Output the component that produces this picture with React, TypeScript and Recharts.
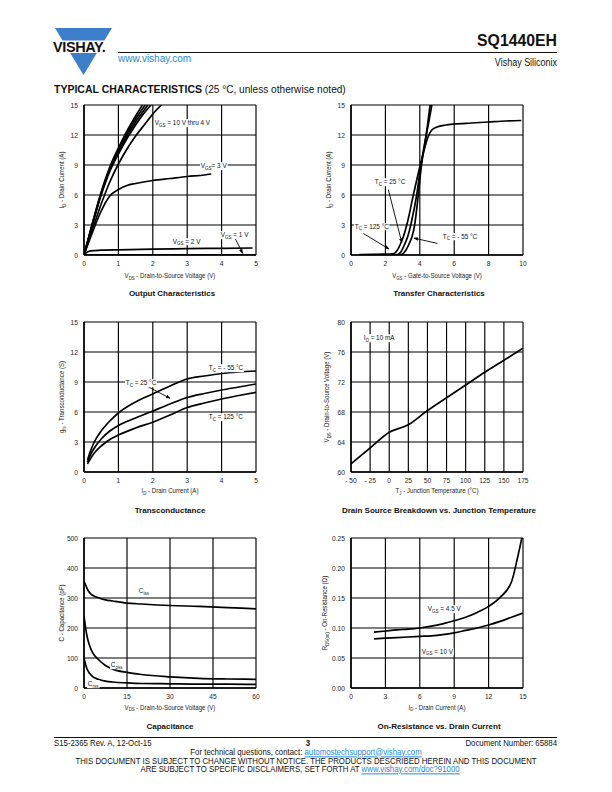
import React from 'react';
import { LineChart, Line, XAxis, YAxis, CartesianGrid, ReferenceLine } from 'recharts';

type Pt = [number, number];

// Output characteristics: I_D (A) vs V_DS (V)
const outVgs10: Pt[] = [[0, 0], [0.25, 3.25], [0.5, 6.3], [0.75, 8.8], [1, 10.7], [1.25, 12.4], [1.5, 13.9], [1.7, 15]];
const outVgs8: Pt[] = [[0, 0], [0.25, 3.2], [0.5, 6.2], [0.75, 8.65], [1, 10.5], [1.25, 12.15], [1.5, 13.6], [1.78, 15]];
const outVgs6: Pt[] = [[0, 0], [0.25, 3.15], [0.5, 6.1], [0.75, 8.5], [1, 10.3], [1.25, 11.9], [1.5, 13.3], [1.75, 14.5], [1.86, 15]];
const outVgs5: Pt[] = [[0, 0], [0.25, 3.1], [0.5, 6.0], [0.75, 8.35], [1, 10.1], [1.25, 11.65], [1.5, 13.0], [1.75, 14.2], [1.95, 15]];
const outVgs4: Pt[] = [[0, 0], [0.25, 2.6], [0.5, 5.1], [0.75, 7.3], [1, 9.1], [1.25, 10.6], [1.5, 11.9], [1.75, 13.0], [2, 14.1], [2.25, 15]];
const outVgs3: Pt[] = [[0, 0], [0.25, 2.3], [0.5, 4.4], [0.75, 5.9], [1, 6.55], [1.25, 6.95], [1.5, 7.15], [2, 7.45], [2.5, 7.65], [3, 7.85], [3.5, 8.0], [3.7, 8.1]];
const outVgs2: Pt[] = [[0, 0], [0.1, 0.3], [0.2, 0.42], [0.5, 0.48], [1, 0.52], [2, 0.58], [3, 0.63], [4, 0.67], [4.9, 0.7]];
const outVgs1: Pt[] = [[0, 0], [1, 0.01], [2, 0.02], [3, 0.02], [4, 0.02], [5, 0.02]];

// Transfer characteristics: I_D (A) vs V_GS (V)
const trM55: Pt[] = [[0.5, 0], [2, 0], [2.8, 0], [3.0, 0.1], [3.2, 0.5], [3.4, 1.2], [3.55, 1.85], [3.7, 3.0], [3.9, 5.8], [4.1, 9.0], [4.3, 11.2], [4.45, 13], [4.6, 15]];
const tr25: Pt[] = [[0.5, 0.02], [2, 0.02], [2.7, 0.05], [2.9, 0.3], [3.1, 1.0], [3.3, 1.85], [3.5, 3.2], [3.8, 5.8], [4.05, 8.8], [4.3, 11.3], [4.5, 13.1], [4.7, 15]];
const tr125: Pt[] = [[0.5, 0.05], [2, 0.08], [2.5, 0.15], [2.7, 0.5], [2.9, 1.2], [3.05, 1.85], [3.3, 3.4], [3.6, 5.8], [4.0, 8.8], [4.3, 10.8], [4.5, 11.9], [4.7, 12.5], [5, 12.8], [5.5, 13.0], [6, 13.1], [7, 13.2], [8, 13.3], [9, 13.4], [9.9, 13.45]];

// Transconductance: g_fs (S) vs I_D (A)
const gfsM55: Pt[] = [[0.1, 1.2], [0.2, 2.2], [0.3, 3.0], [0.5, 4.1], [0.75, 5.1], [1, 5.9], [1.5, 7.0], [2, 7.8], [2.5, 8.6], [3, 9.3], [3.5, 9.6], [4, 9.85], [4.5, 10.0], [5, 10.1]];
const gfs25: Pt[] = [[0.1, 1.0], [0.2, 1.8], [0.3, 2.4], [0.5, 3.3], [0.75, 4.1], [1, 4.65], [1.5, 5.4], [2, 6.1], [2.5, 6.8], [3, 7.45], [3.5, 7.85], [4, 8.2], [4.5, 8.5], [5, 8.8]];
const gfs125: Pt[] = [[0.1, 0.8], [0.2, 1.4], [0.3, 1.9], [0.5, 2.6], [0.75, 3.25], [1, 3.7], [1.5, 4.4], [2, 4.98], [2.5, 5.7], [3, 6.45], [3.5, 6.9], [4, 7.3], [4.5, 7.65], [5, 7.97]];

// Breakdown: V_DS (V) vs T_J (°C)
const bvTemp = [-50, -25, 0, 25, 50, 75, 100, 125, 150, 175];
const bvVolts = [61.1, 63.2, 65.3, 66.3, 68.2, 69.9, 71.6, 73.3, 74.9, 76.5];

// Capacitance (pF) vs V_DS (V)
const capVds = [0, 0.5, 1, 2, 3, 5, 7.5, 10, 15, 20, 30, 40, 50, 60];
const ciss = [355, 345, 333, 317, 309, 301, 294, 290, 283, 280, 275, 272, 268, 264];
const coss = [240, 205, 175, 140, 118, 95, 75, 63, 52, 45, 37, 32, 30, 29];
const crss = [100, 80, 65, 48, 38, 29, 23, 20, 17, 15, 14, 13, 13, 12];

// On-resistance (ohm) vs I_D (A)
const rdsVgs45: Pt[] = [[2, 0.093], [3, 0.095], [4, 0.097], [5, 0.098], [6, 0.1], [7, 0.103], [8, 0.107], [9, 0.112], [10, 0.118], [11, 0.126], [12, 0.136], [13, 0.151], [14, 0.177], [14.5, 0.215], [14.9, 0.25]];
const rdsVgs10: Pt[] = [[2, 0.082], [3, 0.083], [4, 0.084], [5, 0.085], [6, 0.086], [7, 0.087], [8, 0.089], [9, 0.092], [10, 0.096], [11, 0.1], [12, 0.105], [13, 0.111], [14, 0.118], [15, 0.125]];

const zip = (xs: number[], ys: number[]): Pt[] => xs.map((x, i) => [x, ys[i]]);

const SANS = "'Liberation Sans', Arial, sans-serif";
const N = 0.84; // squeeze factor, the datasheet uses a narrow face

const PW = 172, PH = 150, ML = 40, MT = 8, MR = 8, XH = 16;

interface PanelProps {
    left: number;
    top: number;
    xDomain: [number, number];
    yDomain: [number, number];
    xTicks: number[];
    yTicks: number[];
    series: Pt[][];
    arrows?: [Pt, Pt][];
    xFmt?: (v: number) => string;
    yFmt?: (v: number) => string;
}

const arrowShape = (p: any) => (
    <line x1={p.x1} y1={p.y1} x2={p.x2} y2={p.y2} stroke="#000" strokeWidth={0.9} markerEnd="url(#ah)" />
);

const XTick = ({ x, y, payload, fmt }: any) => (
    <g transform={`translate(${x},${y}) scale(${N + 0.06},1)`}>
        <text x={0} y={0} dy="0.71em" textAnchor="middle" fontSize={7.4} fontFamily={SANS} fill="#222">
            {fmt ? fmt(payload.value) : payload.value}
        </text>
    </g>
);

const YTick = ({ x, y, payload, fmt }: any) => (
    <g transform={`translate(${x},${y}) scale(${N + 0.06},1)`}>
        <text x={0} y={0} dy="0.35em" textAnchor="end" fontSize={7.4} fontFamily={SANS} fill="#222">
            {fmt ? fmt(payload.value) : payload.value}
        </text>
    </g>
);

const Panel = ({ left, top, xDomain, yDomain, xTicks, yTicks, series, arrows = [], xFmt, yFmt }: PanelProps) => (
    <div style={{ position: 'absolute', left: left - ML, top: top - MT }}>
        <LineChart width={ML + PW + MR} height={MT + PH + XH} margin={{ top: MT, right: MR, left: 0, bottom: 0 }}>
            <CartesianGrid stroke="#000" strokeWidth={1.15} />
            <XAxis
                type="number"
                dataKey="x"
                domain={xDomain}
                ticks={xTicks}
                interval={0}
                allowDataOverflow
                height={XH}
                tickLine={false}
                tickSize={4}
                tickMargin={1.5}
                axisLine={{ stroke: '#000', strokeWidth: 1.5 }}
                tick={<XTick fmt={xFmt} />}
            />
            <YAxis
                type="number"
                domain={yDomain}
                ticks={yTicks}
                interval={0}
                allowDataOverflow
                width={ML}
                tickLine={false}
                tickSize={4}
                tickMargin={2}
                axisLine={{ stroke: '#000', strokeWidth: 1.5 }}
                tick={<YTick fmt={yFmt} />}
            />
            {series.map((s, i) => (
                <Line
                    key={i}
                    data={s.map(([x, y]) => ({ x, y }))}
                    dataKey="y"
                    type="monotone"
                    stroke="#000"
                    strokeWidth={1.7}
                    dot={false}
                    isAnimationActive={false}
                />
            ))}
            {arrows.map(([a, b], i) => (
                <ReferenceLine key={i} segment={[{ x: a[0], y: a[1] }, { x: b[0], y: b[1] }]} shape={arrowShape} />
            ))}
        </LineChart>
    </div>
);

const Sub = ({ children }: { children: React.ReactNode }) => (
    <span style={{ fontSize: '70%', position: 'relative', top: '0.3em' }}>{children}</span>
);

const base: React.CSSProperties = { position: 'absolute', fontFamily: SANS, lineHeight: 1, whiteSpace: 'nowrap', color: '#111' };

const Note = ({ x, y, children }: { x: number; y: number; children: React.ReactNode }) => (
    <div style={{ ...base, left: x, top: y, transform: `translateY(-50%) scaleX(${N})`, transformOrigin: 'left center', fontSize: 7.6, background: '#fff', padding: '0 1px' }}>
        {children}
    </div>
);

const XLabel = ({ x, y, children }: { x: number; y: number; children: React.ReactNode }) => (
    <div style={{ ...base, left: x, top: y, transform: `translate(-50%,-50%) scaleX(${N})`, fontSize: 7.3, color: '#222' }}>
        {children}
    </div>
);

const YLabel = ({ x, y, children }: { x: number; y: number; children: React.ReactNode }) => (
    <div style={{ ...base, left: x, top: y, transform: `translate(-50%,-50%) rotate(-90deg) scaleX(${N})`, fontSize: 7.3, color: '#222' }}>
        {children}
    </div>
);

const Title = ({ x, y, children }: { x: number; y: number; children: React.ReactNode }) => (
    <div style={{ ...base, left: x, top: y, transform: 'translate(-50%,-50%)', fontWeight: 700, fontSize: 8 }}>
        {children}
    </div>
);

const FootText = ({ style, origin = 'center', children }: { style: React.CSSProperties; origin?: string; children: React.ReactNode }) => (
    <div style={{ ...base, fontSize: 9.3, transformOrigin: `${origin} center`, ...style }}>{children}</div>
);

const link: React.CSSProperties = { color: '#2a8ad6', textDecoration: 'underline' };

const L1 = 84, L2 = 351, T1 = 105, T2 = 322, T3 = 538;
const cx1 = L1 + PW / 2, cx2 = L2 + PW / 2;

export default function App() {
    return (
        <div style={{ position: 'absolute', left: 0, top: 0, width: 612, height: 792, background: '#fff', overflow: 'hidden' }}>
            <svg width={0} height={0} style={{ position: 'absolute' }}>
                <defs>
                    <marker id="ah" viewBox="0 0 10 10" refX="9" refY="5" markerWidth="5" markerHeight="5" orient="auto">
                        <path d="M0,1 L10,5 L0,9 z" fill="#000" />
                    </marker>
                </defs>
            </svg>

            {/* header */}
            <svg width={70} height={60} style={{ position: 'absolute', left: 50, top: 24 }}>
                <polygon points="5,4 62,4 33.5,51" fill="#3d7ecb" />
                <rect x={0} y={16.5} width={70} height={12.5} fill="#fff" />
                <text x={3} y={28.3} fontFamily={SANS} fontWeight={700} fontSize={14.5} letterSpacing={-0.4} fill="#111">VISHAY.</text>
            </svg>
            <div style={{ position: 'absolute', left: 118, top: 51.5, width: 439, height: 1.2, background: '#111' }} />
            <div style={{ ...base, left: 118, top: 59, transform: 'translateY(-50%)', fontSize: 10, color: '#2a8ad6' }}>www.vishay.com</div>
            <div style={{ ...base, right: 55, top: 41, transform: 'translateY(-50%)', fontWeight: 700, fontSize: 15.8 }}>SQ1440EH</div>
            <div style={{ ...base, right: 55, top: 62, transform: `translateY(-50%) scaleX(${N})`, transformOrigin: 'right center', fontSize: 10.7 }}>Vishay Siliconix</div>
            <div style={{ ...base, left: 54, top: 88, transform: 'translateY(-50%)' }}>
                <span style={{ fontWeight: 900, fontSize: 10.5 }}>TYPICAL CHARACTERISTICS</span>
                <span style={{ fontSize: 10.1 }}> (25 °C, unless otherwise noted)</span>
            </div>

            {/* Output characteristics */}
            <Panel left={L1} top={T1} xDomain={[0, 5]} yDomain={[0, 15]} xTicks={[0, 1, 2, 3, 4, 5]} yTicks={[0, 3, 6, 9, 12, 15]}
                series={[outVgs10, outVgs8, outVgs6, outVgs5, outVgs4, outVgs3, outVgs2, outVgs1]}
                arrows={[[[4.39, 1.69], [4.61, 0.17]]]} />
            <Note x={154} y={123}>V<Sub>GS</Sub> = 10 V thru 4 V</Note>
            <Note x={200} y={166}>V<Sub>GS</Sub>= 3 V</Note>
            <Note x={172} y={241.7}>V<Sub>GS</Sub> = 2 V</Note>
            <Note x={220} y={235}>V<Sub>GS</Sub> = 1 V</Note>
            <XLabel x={cx1} y={T1 + PH + 21}>V<Sub>DS</Sub> - Drain-to-Source Voltage (V)</XLabel>
            <YLabel x={62} y={T1 + PH / 2}>I<Sub>D</Sub> - Drain Current (A)</YLabel>
            <Title x={cx1 + 2} y={T1 + PH + 38.5}>Output Characteristics</Title>

            {/* Transfer characteristics */}
            <Panel left={L2} top={T1} xDomain={[0, 10]} yDomain={[0, 15]} xTicks={[0, 2, 4, 6, 8, 10]} yTicks={[0, 3, 6, 9, 12, 15]}
                series={[trM55, tr25, tr125]}
                arrows={[[[2.17, 6.55], [2.95, 1.26]], [[0.72, 2.15], [2.21, 0.6]], [[5.02, 1.16], [3.66, 1.69]]]} />
            <Note x={374} y={182}>T<Sub>C</Sub> = 25 °C</Note>
            <Note x={354} y={226.7}>T<Sub>C</Sub> = 125 °C</Note>
            <Note x={441.7} y={236.7}>T<Sub>C</Sub> = - 55 °C</Note>
            <XLabel x={cx2} y={T1 + PH + 21}>V<Sub>GS</Sub> - Gate-to-Source Voltage (V)</XLabel>
            <YLabel x={329} y={T1 + PH / 2}>I<Sub>D</Sub> - Drain Current (A)</YLabel>
            <Title x={cx2 + 2} y={T1 + PH + 38.5}>Transfer Characteristics</Title>

            {/* Transconductance */}
            <Panel left={L1} top={T2} xDomain={[0, 5]} yDomain={[0, 15]} xTicks={[0, 1, 2, 3, 4, 5]} yTicks={[0, 3, 6, 9, 12, 15]}
                series={[gfsM55, gfs25, gfs125]}
                arrows={[[[1.77, 8.7], [2.5, 7.37]]]} />
            <Note x={208} y={368}>T<Sub>C</Sub> = - 55 °C</Note>
            <Note x={125} y={383.3}>T<Sub>C</Sub> = 25 °C</Note>
            <Note x={208} y={417.3}>T<Sub>C</Sub> = 125 °C</Note>
            <XLabel x={cx1} y={T2 + PH + 19}>I<Sub>D</Sub> - Drain Current (A)</XLabel>
            <YLabel x={62} y={T2 + PH / 2}>g<Sub>fs</Sub> - Transconductance (S)</YLabel>
            <Title x={cx1} y={T2 + PH + 38.5}>Transconductance</Title>

            {/* Breakdown vs temperature */}
            <Panel left={L2} top={T2} xDomain={[-50, 175]} yDomain={[60, 80]} xTicks={bvTemp} yTicks={[60, 64, 68, 72, 76, 80]}
                series={[zip(bvTemp, bvVolts)]}
                xFmt={(v) => (v < 0 ? `- ${-v}` : `${v}`)} />
            <Note x={362.7} y={338.3}>I<Sub>D</Sub> = 10 mA</Note>
            <XLabel x={cx2} y={T2 + PH + 19}>T<Sub>J</Sub> - Junction Temperature (°C)</XLabel>
            <YLabel x={327} y={T2 + PH / 2}>V<Sub>DS</Sub> - Drain-to-Source Voltage (V)</YLabel>
            <Title x={cx2 + 2} y={T2 + PH + 38.5}>Drain Source Breakdown vs. Junction Temperature</Title>

            {/* Capacitance */}
            <Panel left={L1} top={T3} xDomain={[0, 60]} yDomain={[0, 500]} xTicks={[0, 15, 30, 45, 60]} yTicks={[0, 100, 200, 300, 400, 500]}
                series={[zip(capVds, ciss), zip(capVds, coss), zip(capVds, crss)]} />
            <Note x={138.3} y={591}>C<Sub>iss</Sub></Note>
            <Note x={110} y={665}>C<Sub>oss</Sub></Note>
            <Note x={86.7} y={684}>C<Sub>rss</Sub></Note>
            <XLabel x={cx1} y={T3 + PH + 19.5}>V<Sub>DS</Sub> - Drain-to-Source Voltage (V)</XLabel>
            <YLabel x={62} y={T3 + PH / 2}>C - Capacitance (pF)</YLabel>
            <Title x={cx1} y={T3 + PH + 38.5}>Capacitance</Title>

            {/* On-resistance */}
            <Panel left={L2} top={T3} xDomain={[0, 15]} yDomain={[0, 0.25]} xTicks={[0, 3, 6, 9, 12, 15]} yTicks={[0, 0.05, 0.1, 0.15, 0.2, 0.25]}
                series={[rdsVgs45, rdsVgs10]}
                yFmt={(v) => v.toFixed(2)} />
            <Note x={427.3} y={609.3}>V<Sub>GS</Sub> = 4.5 V</Note>
            <Note x={420.7} y={651.7}>V<Sub>GS</Sub> = 10 V</Note>
            <XLabel x={cx2} y={T3 + PH + 19.5}>I<Sub>D</Sub> - Drain Current (A)</XLabel>
            <YLabel x={325} y={T3 + PH / 2}>R<Sub>DS(on)</Sub> - On-Resistance (Ω)</YLabel>
            <Title x={cx2 + 2} y={T3 + PH + 38.5}>On-Resistance vs. Drain Current</Title>

            {/* footer */}
            <div style={{ position: 'absolute', left: 54, top: 736.6, width: 503, height: 1.2, background: '#111' }} />
            <FootText origin="left" style={{ left: 54, top: 743.5, transform: `translateY(-50%) scaleX(${N})` }}>S15-2365 Rev. A, 12-Oct-15</FootText>
            <FootText style={{ left: 308, top: 744, transform: `translate(-50%,-50%) scaleX(${N})`, fontWeight: 700 }}>3</FootText>
            <FootText origin="right" style={{ right: 55, top: 743.5, transform: `translateY(-50%) scaleX(${N})` }}>Document Number: 65884</FootText>
            <FootText style={{ left: 306, top: 752.5, transform: `translate(-50%,-50%) scaleX(${N})` }}>
                For technical questions, contact: <span style={link}>automostechsupport@vishay.com</span>
            </FootText>
            <FootText style={{ left: 306, top: 761.5, transform: `translate(-50%,-50%) scaleX(${N})` }}>
                THIS DOCUMENT IS SUBJECT TO CHANGE WITHOUT NOTICE. THE PRODUCTS DESCRIBED HEREIN AND THIS DOCUMENT
            </FootText>
            <FootText style={{ left: 300, top: 770, transform: `translate(-50%,-50%) scaleX(${N})` }}>
                ARE SUBJECT TO SPECIFIC DISCLAIMERS, SET FORTH AT <span style={link}>www.vishay.com/doc?91000</span>
            </FootText>
        </div>
    );
}
